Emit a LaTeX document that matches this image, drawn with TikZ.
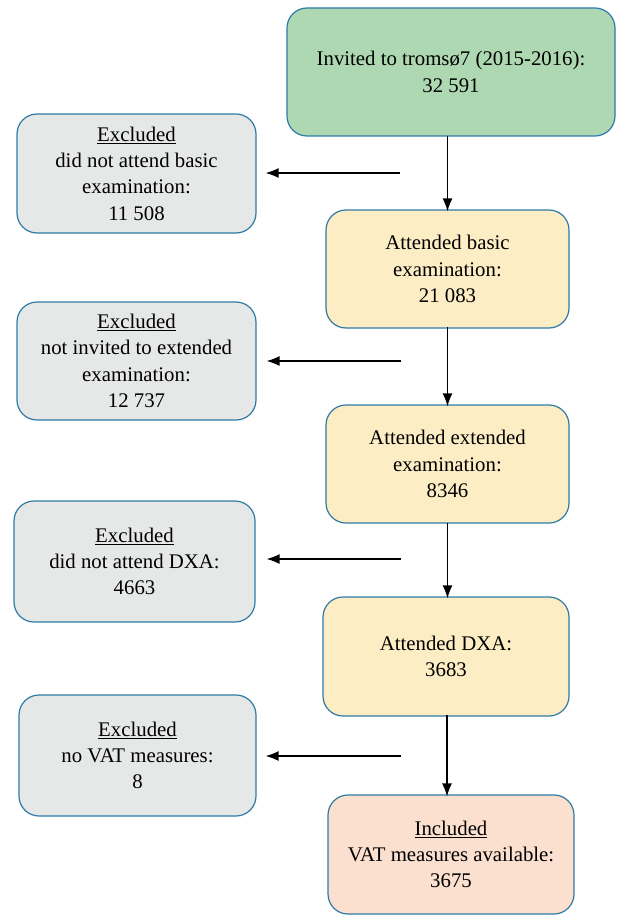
\documentclass[tikz,border=0pt]{standalone}
\usepackage{fontspec}
\setmainfont{Liberation Serif}
\usetikzlibrary{arrows.meta}
\definecolor{bordc}{HTML}{2E7AA6}
\definecolor{greenc}{HTML}{AED8B1}
\definecolor{yellc}{HTML}{FCEDC4}
\definecolor{grayc}{HTML}{E6E7E7}
\definecolor{pinkc}{HTML}{FBDFCF}
\tikzset{
  box/.style={draw=bordc, line width=1.2pt, rounded corners=20pt, align=center,
    font=\fontsize{20.8}{26.3}\selectfont, inner sep=0pt},
  arr/.style={line width=1.3pt, -{Latex[length=13pt,width=10pt]}}
}
\begin{document}
\begin{tikzpicture}[x=1pt,y=-1pt]
\useasboundingbox (0,0) rectangle (616,915);
\node[box, fill=greenc, minimum width=328pt, minimum height=128pt] (inv) at (451,72) {Invited to tromsø7 (2015-2016):\\32 591};
\node[box, fill=grayc, minimum width=239pt, minimum height=119pt] (ex1) at (136.5,173.5) {\underline{Excluded}\\did not attend basic\\examination:\\11 508};
\node[box, fill=yellc, minimum width=243pt, minimum height=118pt] (b1) at (447.5,269) {Attended basic\\examination:\\21 083};
\node[box, fill=grayc, minimum width=239pt, minimum height=118pt] (ex2) at (136.5,361) {\underline{Excluded}\\not invited to extended\\examination:\\12 737};
\node[box, fill=yellc, minimum width=243pt, minimum height=118pt] (b2) at (447.5,464) {Attended extended\\examination:\\8346};
\node[box, fill=grayc, minimum width=241pt, minimum height=121pt] (ex3) at (134.5,561.5) {\underline{Excluded}\\did not attend DXA:\\4663};
\node[box, fill=yellc, minimum width=246pt, minimum height=119pt] (b3) at (446,656.5) {Attended DXA:\\3683};
\node[box, fill=grayc, minimum width=237pt, minimum height=121pt] (ex4) at (137.5,755.5) {\underline{Excluded}\\no VAT measures:\\8};
\node[box, fill=pinkc, minimum width=246pt, minimum height=119pt] (inc) at (451,854.5) {\underline{Included}\\VAT measures available:\\3675};
\coordinate (h1) at (400,173);
\coordinate (h2) at (401,361);
\coordinate (h3) at (401,559);
\coordinate (h4) at (401,756);
\draw[arr] ([yshift=1pt]inv.south -| b1.north) -- ([yshift=-2pt]b1.north);
\draw[arr] ([yshift=2pt]b1.south) -- ([yshift=-2pt]b2.north);
\draw[arr] ([yshift=1pt]b2.south) -- ([yshift=-2pt]b2.south |- b3.north);
\draw[arr] ([xshift=1pt,yshift=2pt]b3.south) -- ([xshift=1pt,yshift=-2pt]b3.south |- inc.north);
\draw[arr, shorten >=9pt] (h1) -- (h1 -| ex1.east);
\draw[arr, shorten >=10pt] (h2) -- (h2 -| ex2.east);
\draw[arr, shorten >=11pt] (h3) -- (h3 -| ex3.east);
\draw[arr, shorten >=9pt] (h4) -- (h4 -| ex4.east);
\end{tikzpicture}
\end{document}
